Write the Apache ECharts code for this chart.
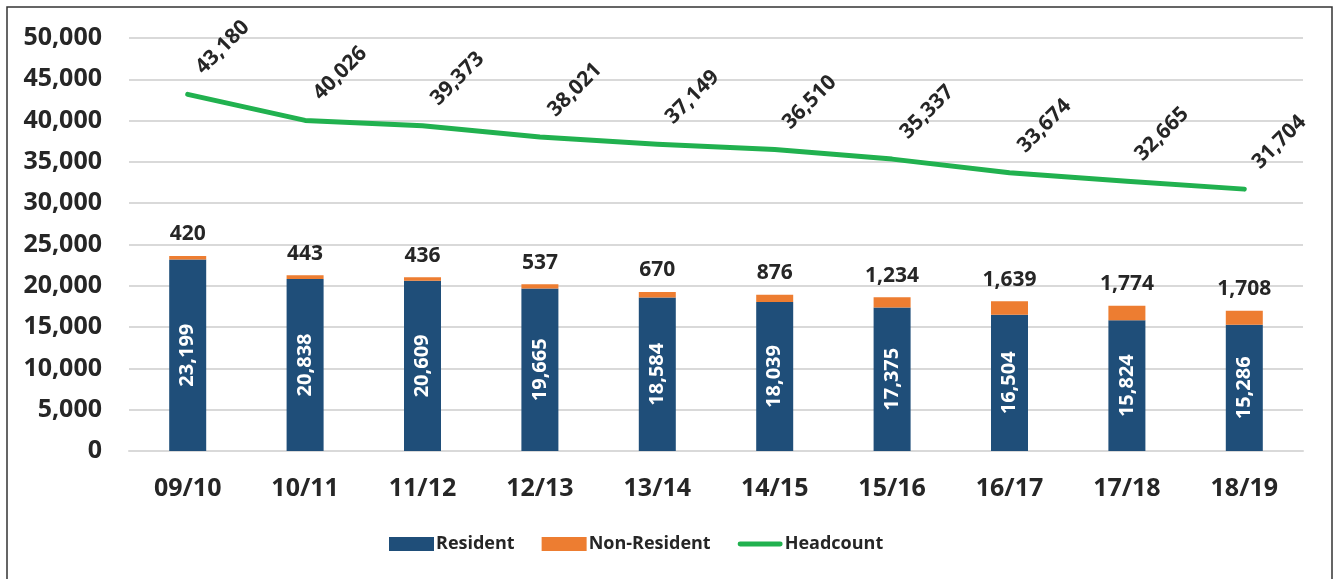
<!DOCTYPE html>
<html>
<head>
<meta charset="utf-8">
<script src="https://cdn.jsdelivr.net/npm/echarts@6/dist/echarts.min.js"></script>
<style>
  html, body { margin: 0; padding: 0; background: #fff; }
  #chart { width: 1334px; height: 579px; }
</style>
</head>
<body>
<div id="chart"></div>
<script>
// 数据
var categories = ['09/10', '10/11', '11/12', '12/13', '13/14', '14/15', '15/16', '16/17', '17/18', '18/19'];
var resident = [23199, 20838, 20609, 19665, 18584, 18039, 17375, 16504, 15824, 15286];
var nonResident = [420, 443, 436, 537, 670, 876, 1234, 1639, 1774, 1708];
var headcount = [43180, 40026, 39373, 38021, 37149, 36510, 35337, 33674, 32665, 31704];

var fontFamily = '"Open Sans", "Noto Sans", sans-serif';
var textColor = '#262626';
var green = '#21b14f';

function fmt(v) {
    return v.toLocaleString('en-US');
}

var myChart = echarts.init(document.getElementById('chart'));
var option = {
    animation: false,
    textStyle: { fontFamily: fontFamily },
    //外框
    graphic: [{
        type: 'rect',
        shape: { x: 7, y: 7, width: 1325, height: 590 },
        style: { fill: 'none', stroke: '#333', lineWidth: 1.5 },
        silent: true
    }],
    grid: {
        left: 129,
        right: 31,
        top: 38,
        bottom: 128
    },
    legend: {
        left: 384,
        top: 530,
        itemWidth: 45,
        itemHeight: 14,
        itemGap: 27,
        data: [
            { name: 'Resident', icon: 'rect' },
            { name: 'Non-Resident', icon: 'rect' },
            { name: 'Headcount', icon: 'path://M2,0 L43,0 A2.5,2.5 0 0 1 43,5 L2,5 A2.5,2.5 0 0 1 2,0 Z', itemStyle: { color: green } }
        ],
        textStyle: {
            fontFamily: fontFamily,
            fontSize: 18,
            fontWeight: 'bold',
            color: textColor,
            padding: [0, 0, 0, -3]
        }
    },
    xAxis: {
        type: 'category',
        data: categories,
        axisLine: { lineStyle: { color: '#d9d9d9', width: 2 } },
        axisTick: { show: false },
        axisLabel: {
            margin: 25,
            fontSize: 25,
            fontWeight: 'bold',
            color: textColor,
            fontFamily: fontFamily
        }
    },
    yAxis: {
        type: 'value',
        min: 0,
        max: 50000,
        interval: 5000,
        axisLine: { show: false },
        axisTick: { show: false },
        splitLine: { lineStyle: { color: '#d9d9d9', width: 2 } },
        axisLabel: {
            margin: 27,
            fontSize: 25,
            fontWeight: 'bold',
            color: textColor,
            fontFamily: fontFamily,
            formatter: function(v) { return fmt(v); }
        }
    },
    series: [{
        name: 'Resident',
        type: 'bar',
        stack: 'total',
        barWidth: 37,
        data: resident,
        itemStyle: { color: '#1f4e79' },
        label: {
            show: true,
            position: 'inside',
            rotate: 90,
            color: '#fff',
            fontSize: 20,
            fontWeight: 'bold',
            fontFamily: fontFamily,
            formatter: function(p) { return fmt(p.value); }
        }
    }, {
        name: 'Non-Resident',
        type: 'bar',
        stack: 'total',
        barWidth: 37,
        data: nonResident,
        itemStyle: { color: '#ed7d31' },
        label: {
            show: true,
            position: 'top',
            distance: 11,
            color: textColor,
            fontSize: 21,
            fontWeight: 'bold',
            fontFamily: fontFamily,
            formatter: function(p) { return fmt(p.value); }
        }
    }, {
        name: 'Headcount',
        type: 'line',
        data: headcount,
        symbol: 'circle',
        symbolSize: 2,
        itemStyle: { color: green },
        lineStyle: { color: green, width: 5, cap: 'round', join: 'round' },
        label: {
            show: true,
            position: [36, -46],
            rotate: 45,
            align: 'center',
            verticalAlign: 'middle',
            color: textColor,
            fontSize: 21,
            fontWeight: 'bold',
            fontFamily: fontFamily,
            formatter: function(p) { return fmt(p.value); }
        }
    }]
};
myChart.setOption(option);
</script>
</body>
</html>
